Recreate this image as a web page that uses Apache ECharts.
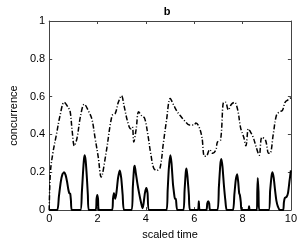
<!DOCTYPE html>
<html><head><meta charset="utf-8">
<script src="https://cdn.jsdelivr.net/npm/echarts@6/dist/echarts.min.js"></script>
<style>html,body{margin:0;padding:0;background:#fff}#c{width:300px;height:245px}</style>
</head><body><div id="c"></div>
<script>
var xTicks = [0, 2, 4, 6, 8, 10];
var yTicks = [0, 0.2, 0.4, 0.6, 0.8, 1];
var upperX = [0, 0.05, 0.15, 0.3, 0.45, 0.62, 0.8, 0.87, 0.95, 1.04, 1.15, 1.3, 1.45, 1.64, 1.77, 1.9, 2.03, 2.15, 2.35, 2.6, 2.73, 2.86, 2.99, 3.1, 3.24, 3.37, 3.44, 3.5, 3.6, 3.7, 3.82, 3.95, 4.08, 4.2, 4.33, 4.46, 4.59, 4.72, 4.85, 5.01, 5.17, 5.3, 5.42, 5.62, 5.8, 6.0, 6.07, 6.19, 6.32, 6.42, 6.5, 6.64, 6.77, 6.9, 6.96, 7.09, 7.22, 7.3, 7.41, 7.54, 7.67, 7.8, 7.92, 8.05, 8.14, 8.24, 8.3, 8.44, 8.56, 8.69, 8.8, 8.95, 9.08, 9.14, 9.27, 9.4, 9.53, 9.65, 9.76, 9.91, 10];
var upperY = [0.0, 0.2, 0.3, 0.4, 0.5, 0.57, 0.54, 0.52, 0.42, 0.34, 0.38, 0.5, 0.56, 0.52, 0.48, 0.38, 0.28, 0.175, 0.3, 0.5, 0.51, 0.57, 0.605, 0.55, 0.47, 0.43, 0.44, 0.36, 0.43, 0.52, 0.5, 0.485, 0.4, 0.3, 0.22, 0.21, 0.225, 0.35, 0.47, 0.59, 0.55, 0.52, 0.5, 0.47, 0.45, 0.45, 0.46, 0.443, 0.385, 0.285, 0.285, 0.32, 0.3, 0.32, 0.36, 0.37, 0.57, 0.57, 0.53, 0.56, 0.57, 0.53, 0.435, 0.385, 0.34, 0.43, 0.42, 0.385, 0.335, 0.29, 0.385, 0.37, 0.3, 0.3, 0.4, 0.5, 0.52, 0.527, 0.57, 0.585, 0.595];
var lowerX = [0, 0.33, 0.4, 0.48, 0.55, 0.62, 0.68, 0.74, 0.79, 0.83, 0.87, 0.9, 0.94,
  1.29, 1.35, 1.4, 1.44, 1.47, 1.51, 1.56, 1.6, 1.64,
  1.92, 1.96, 1.99, 2.02, 2.06,
  2.6, 2.64, 2.68, 2.73, 2.78, 2.85, 2.92, 2.98, 3.04, 3.1,
  3.41, 3.46, 3.51, 3.54, 3.58, 3.65, 3.72, 3.8, 3.86, 3.9, 3.96, 4.02, 4.07, 4.14,
  4.85, 4.9, 4.95, 5.01, 5.06, 5.12, 5.17, 5.2, 5.24, 5.3,
  5.55, 5.6, 5.65, 5.68, 5.72, 5.78, 5.83,
  6.15, 6.19, 6.23,
  6.5, 6.54, 6.58, 6.62, 6.66,
  6.96, 7.02, 7.08, 7.12, 7.17, 7.23, 7.29, 7.35,
  7.6, 7.66, 7.72, 7.78, 7.82, 7.86, 7.89, 7.93, 7.96,
  8.24, 8.27, 8.3,
  8.59, 8.61, 8.63, 8.66, 8.69,
  9.08, 9.14, 9.2, 9.24, 9.29, 9.35, 9.4, 9.46, 9.55,
  9.68, 9.71, 9.75, 9.82, 9.88, 9.94, 10];
var lowerY = [0, 0, 0.07, 0.15, 0.19, 0.2, 0.185, 0.15, 0.11, 0.09, 0.087, 0.05, 0,
  0, 0.09, 0.2, 0.27, 0.29, 0.26, 0.17, 0.08, 0,
  0, 0.06, 0.08, 0.06, 0,
  0, 0.06, 0.09, 0.06, 0.09, 0.17, 0.21, 0.17, 0.08, 0,
  0, 0.12, 0.22, 0.235, 0.2, 0.14, 0.09, 0.04, 0.01, 0.03, 0.09, 0.117, 0.09, 0,
  0, 0.1, 0.22, 0.29, 0.25, 0.14, 0.085, 0.06, 0.06, 0,
  0, 0.1, 0.2, 0.22, 0.18, 0.08, 0,
  0, 0.047, 0,
  0, 0.035, 0.047, 0.035, 0,
  0, 0.12, 0.24, 0.27, 0.23, 0.13, 0.05, 0,
  0, 0.08, 0.16, 0.19, 0.15, 0.09, 0.08, 0.04, 0,
  0, 0.02, 0,
  0, 0.1, 0.17, 0.1, 0,
  0, 0.1, 0.18, 0.2, 0.17, 0.1, 0.05, 0.02, 0,
  0, 0.04, 0.065, 0.07, 0.09, 0.15, 0.21];

function zip(a, b) { return a.map(function (v, i) { return [v, b[i]]; }); }
var font = 'Liberation Sans, Arial, sans-serif';
var chart = echarts.init(document.getElementById('c'), null, { renderer: 'canvas' });
function axisCommon() {
  return {
    axisLine: { show: true, onZero: false, lineStyle: { color: '#444', width: 1 } },
    axisTick: { show: true, inside: true, length: 3, lineStyle: { color: '#444' } },
    splitLine: { show: false }
  };
}
chart.setOption({
  animation: false,
  title: { text: 'b', left: 162, top: 1, textAlign: 'center', textStyle: { fontFamily: font, fontSize: 11, fontWeight: 'bold', color: '#000' } },
  grid: { left: 32, right: 8, top: 21, bottom: 25, containLabel: false },
  xAxis: [
    Object.assign({ type: 'value', min: 0, max: 10, interval: 2, position: 'bottom',
      name: 'scaled time', nameLocation: 'middle', nameGap: 13,
      nameTextStyle: { fontFamily: font, fontSize: 11, color: '#000' },
      axisLabel: { fontFamily: font, fontSize: 11, color: '#000', margin: 3,
        customValues: xTicks, formatter: function (v) { return String(v); } } }, axisCommon()),
    Object.assign({ type: 'value', min: 0, max: 10, interval: 2, position: 'top', axisLabel: { show: false } }, axisCommon())
  ],
  yAxis: [
    Object.assign({ type: 'value', min: 0, max: 1, interval: 0.2, position: 'left',
      name: 'concurrence', nameLocation: 'middle', nameGap: 25,
      nameTextStyle: { fontFamily: font, fontSize: 11, color: '#000' },
      axisLabel: { fontFamily: font, fontSize: 11, color: '#000', margin: 4,
        customValues: yTicks, formatter: function (v) { return String(Math.round(v * 10) / 10); } } }, axisCommon()),
    Object.assign({ type: 'value', min: 0, max: 1, interval: 0.2, position: 'right', axisLabel: { show: false } }, axisCommon())
  ],
  series: [
    { type: 'line', data: zip(upperX, upperY), smooth: 0.35, symbol: 'none', clip: true,
      lineStyle: { color: '#000', width: 1.5, type: [5, 2, 1, 2] } },
    { type: 'line', data: zip(lowerX, lowerY), smooth: 0.2, symbol: 'none', clip: true,
      lineStyle: { color: '#000', width: 2 } }
  ]
});
</script></body></html>
